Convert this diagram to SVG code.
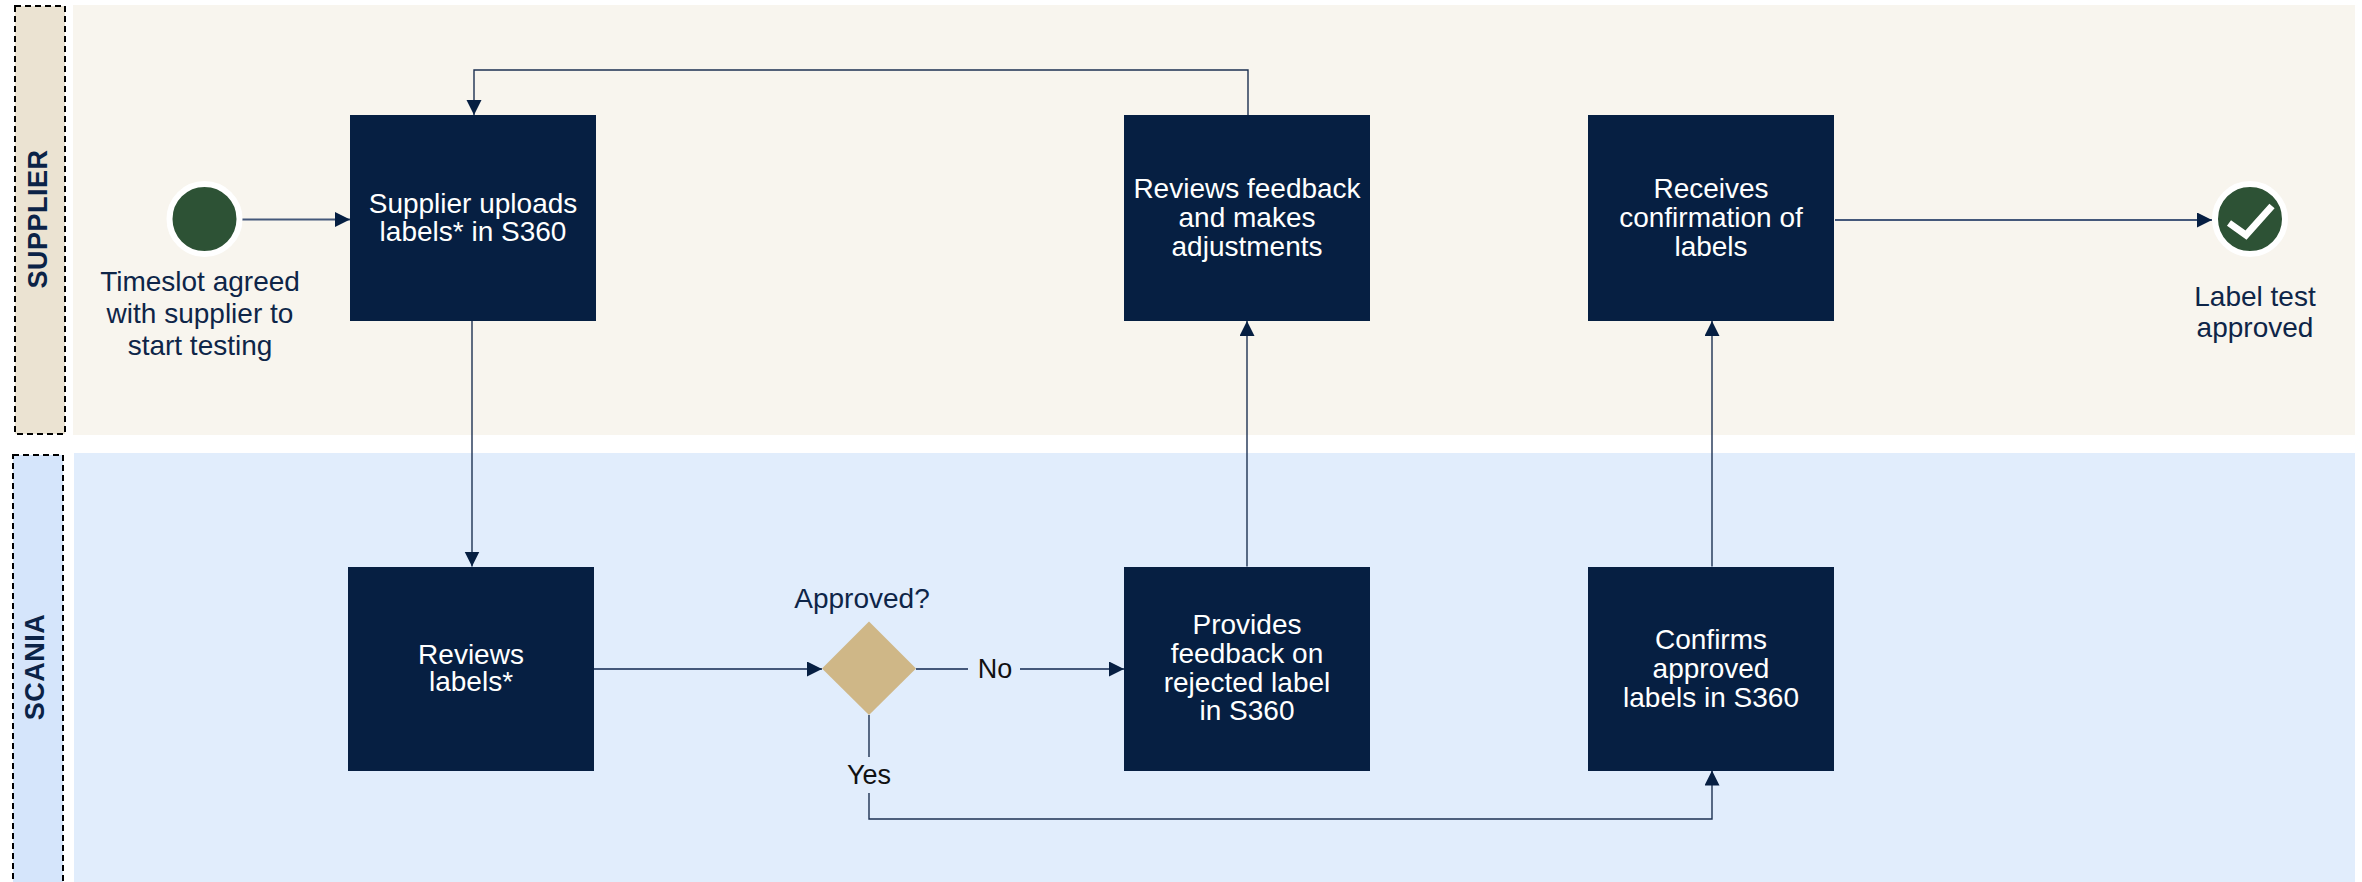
<svg xmlns="http://www.w3.org/2000/svg" width="2362" height="882" viewBox="0 0 2362 882">
<defs>
<style>
.lane-sup{fill:#f8f5ee}
.lane-sca{fill:#e1edfc}
.lab-sup{fill:#ebe3d2;stroke:#000;stroke-width:2;stroke-dasharray:6 4}
.lab-sca{fill:#d5e5fb;stroke:#000;stroke-width:2;stroke-dasharray:6 4}
.lanetxt{font-family:"Liberation Sans",Arial,sans-serif;font-size:27px;font-weight:bold;fill:#0b2347;letter-spacing:0.5px;text-anchor:middle}
.box{fill:#061f42}
.btxt{font-family:"Liberation Sans",Arial,sans-serif;font-size:28px;fill:#ffffff;text-anchor:middle}
.otxt{font-family:"Liberation Sans",Arial,sans-serif;font-size:28px;fill:#0e2548;text-anchor:middle}
.ltxt{font-family:"Liberation Sans",Arial,sans-serif;font-size:27px;fill:#111111;text-anchor:middle}
.thick{fill:none;stroke:#44587a;stroke-width:2.2}
.thin{fill:none;stroke:#1d3152;stroke-width:1.4}
</style>
<marker id="arr" markerUnits="userSpaceOnUse" markerWidth="16" markerHeight="16" refX="15" refY="7.5" orient="auto">
<path d="M0,0 L15,7.5 L0,15 Z" fill="#061f42"/>
</marker>
</defs>

<g id="lanes">
<rect class="lane-sup" x="73" y="5" width="2282" height="430"/>
<rect class="lab-sup" x="15" y="6" width="50" height="428"/>
<text class="lanetxt" transform="translate(37,219) rotate(-90)" x="0" y="9.5">SUPPLIER</text>
<rect class="lane-sca" x="74" y="453" width="2281" height="429"/>
<rect class="lab-sca" x="13" y="455" width="50" height="432"/>
<text class="lanetxt" transform="translate(34,667) rotate(-90)" x="0" y="9.5">SCANIA</text>
</g>

<g id="connectors">
<path class="thick" d="M242,219.5 L350,219.5" marker-end="url(#arr)"/>
<path class="thin" d="M472,321 L472,566.5" marker-end="url(#arr)"/>
<path class="thick" d="M594,669 L822,669" marker-end="url(#arr)"/>
<path class="thick" d="M916,669 L1124,669" marker-end="url(#arr)"/>
<path class="thin" d="M1247,566.5 L1247,321" marker-end="url(#arr)"/>
<path class="thin" d="M1248,115 L1248,70 L474,70 L474,115" marker-end="url(#arr)"/>
<path class="thin" d="M869,715 L869,819 L1712,819 L1712,770.5" marker-end="url(#arr)"/>
<path class="thin" d="M1712,566.5 L1712,321" marker-end="url(#arr)"/>
<path class="thick" d="M1835,220 L2212,220" marker-end="url(#arr)"/>
<rect x="968" y="656" width="52" height="25" fill="#e1edfc"/>
<text class="ltxt" x="995" y="677.5">No</text>
<rect x="840" y="757" width="58" height="36" fill="#e1edfc"/>
<text class="ltxt" x="869" y="783.5">Yes</text>
</g>

<g id="start">
<circle cx="204.5" cy="219" r="35" fill="#2d5235" stroke="#ffffff" stroke-width="6"/>
<text class="otxt" x="200" y="291">Timeslot agreed</text>
<text class="otxt" x="200" y="323">with supplier to</text>
<text class="otxt" x="200" y="355">start testing</text>
</g>

<g id="upload">
<rect class="box" x="350" y="115" width="246" height="206"/>
<text class="btxt" x="473" y="212.5">Supplier uploads</text>
<text class="btxt" x="473" y="240.5">labels* in S360</text>
</g>

<g id="reviews-feedback">
<rect class="box" x="1124" y="115" width="246" height="206"/>
<text class="btxt" x="1247" y="198">Reviews feedback</text>
<text class="btxt" x="1247" y="227">and makes</text>
<text class="btxt" x="1247" y="256">adjustments</text>
</g>

<g id="receives">
<rect class="box" x="1588" y="115" width="246" height="206"/>
<text class="btxt" x="1711" y="198">Receives</text>
<text class="btxt" x="1711" y="227">confirmation of</text>
<text class="btxt" x="1711" y="256">labels</text>
</g>

<g id="end">
<circle cx="2250" cy="219" r="35" fill="#2d5235" stroke="#ffffff" stroke-width="6"/>
<path d="M2229,223 L2246,235 L2272,206" fill="none" stroke="#ffffff" stroke-width="7" stroke-linecap="butt" stroke-linejoin="miter"/>
<text class="otxt" x="2255" y="306">Label test</text>
<text class="otxt" x="2255" y="337">approved</text>
</g>

<g id="reviews-labels">
<rect class="box" x="348" y="567" width="246" height="204"/>
<text class="btxt" x="471" y="663.5">Reviews</text>
<text class="btxt" x="471" y="691">labels*</text>
</g>

<g id="decision">
<polygon points="869,621.5 916,668.5 869,715 822,668.5" fill="#cfb787"/>
<text class="otxt" x="862" y="607.5">Approved?</text>
</g>

<g id="provides">
<rect class="box" x="1124" y="567" width="246" height="204"/>
<text class="btxt" x="1247" y="634">Provides</text>
<text class="btxt" x="1247" y="662.5">feedback on</text>
<text class="btxt" x="1247" y="691.5">rejected label</text>
<text class="btxt" x="1247" y="720">in S360</text>
</g>

<g id="confirms">
<rect class="box" x="1588" y="567" width="246" height="204"/>
<text class="btxt" x="1711" y="648.5">Confirms</text>
<text class="btxt" x="1711" y="677.5">approved</text>
<text class="btxt" x="1711" y="706.5">labels in S360</text>
</g>
</svg>
